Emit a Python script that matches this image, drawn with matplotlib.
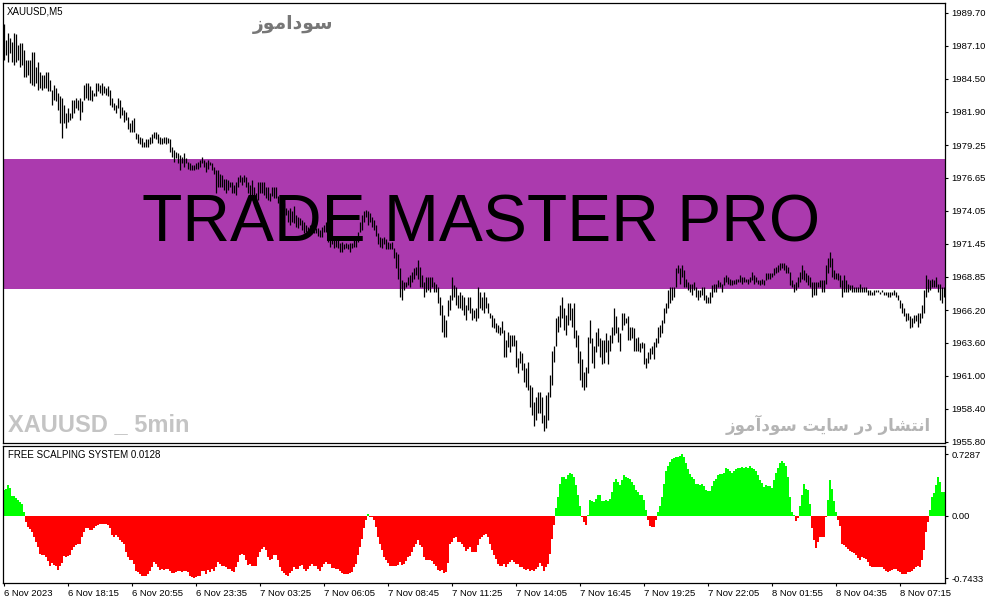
import matplotlib
matplotlib.use('Agg')
import numpy as np
import matplotlib.pyplot as plt

# XAUUSD M5 bars (high / low)
highs = [
    1988.8, 1987.6, 1988.1, 1987.7, 1987.4, 1988.1, 1988.0, 1987.2, 1987.3, 1987.3,
    1986.8, 1986.0, 1986.0, 1986.0, 1986.6, 1986.6, 1985.4, 1985.8, 1985.0, 1984.8,
    1984.8, 1985.0, 1985.0, 1984.4, 1983.6, 1984.0, 1983.8, 1983.4, 1983.1, 1983.0,
    1982.4, 1981.8, 1982.2, 1981.8, 1982.8, 1982.8, 1983.0, 1982.8, 1983.0, 1982.7,
    1984.0, 1984.2, 1984.2, 1983.9, 1983.6, 1983.4, 1984.2, 1984.2, 1984.0, 1984.2,
    1983.9, 1983.8, 1983.9, 1983.6, 1983.0, 1982.6, 1982.4, 1983.0, 1982.8, 1982.3,
    1982.0, 1981.9, 1981.5, 1981.0, 1981.2, 1981.4, 1980.2, 1980.1, 1979.9, 1979.8,
    1979.5, 1979.7, 1979.7, 1979.9, 1980.1, 1980.3, 1980.3, 1980.1, 1979.9, 1979.8,
    1979.9, 1979.9, 1979.8, 1979.7, 1979.1, 1978.9, 1978.7, 1978.6, 1978.5, 1978.3,
    1978.6, 1978.2, 1977.9, 1977.8, 1977.7, 1977.7, 1977.8, 1977.9, 1978.1, 1978.3,
    1978.1, 1977.9, 1978.1, 1977.9, 1977.8, 1977.5, 1977.3, 1977.3, 1977.0, 1976.9,
    1976.6, 1976.6, 1976.5, 1976.3, 1976.3, 1976.1, 1976.3,
    1976.7, 1976.9, 1976.7, 1976.9, 1976.7, 1976.3, 1976.1, 1976.5, 1975.9, 1975.5,
    1976.3, 1976.3, 1976.3, 1976.3, 1975.9, 1975.9, 1975.5, 1975.9, 1975.9, 1975.9,
    1975.2, 1975.1, 1974.9, 1974.7, 1974.3, 1974.1, 1974.3, 1974.0, 1974.4, 1973.7,
    1973.6, 1973.5, 1973.3, 1973.2, 1972.9, 1972.8, 1972.9, 1972.9, 1972.7, 1972.7,
    1972.7, 1972.5, 1972.8, 1972.9, 1973.2, 1972.4, 1972.1, 1971.9, 1971.9, 1971.9,
    1971.8, 1971.5, 1971.6, 1971.4, 1971.5, 1971.4, 1971.5, 1971.5, 1971.8, 1971.9,
    1972.4, 1973.2, 1973.7, 1974.0, 1974.1, 1974.0, 1973.9, 1973.6, 1973.3, 1972.9,
    1972.3, 1972.0, 1971.9, 1972.0, 1971.8, 1971.6, 1971.5, 1971.6, 1971.1, 1970.8,
    1970.6, 1969.5, 1968.6, 1968.4, 1968.4, 1968.8, 1969.0, 1969.2, 1969.5, 1969.6,
    1970.2, 1969.6, 1969.0, 1968.4, 1968.8, 1968.8, 1968.8, 1968.8, 1968.4, 1968.3,
    1968.0, 1967.2, 1966.6, 1965.8, 1965.4, 1967.0, 1967.4, 1968.8, 1968.2, 1968.0,
    1967.4, 1967.6, 1967.4, 1967.2, 1966.6, 1967.2,
    1967.2, 1966.4, 1966.2, 1966.4, 1968.0, 1967.6, 1967.2, 1967.6, 1967.2, 1966.8,
    1966.0, 1965.8, 1965.6, 1965.2, 1965.0, 1964.9, 1965.3, 1964.6, 1963.8, 1964.5,
    1964.2, 1964.2, 1964.2, 1963.8, 1962.4, 1963.0, 1962.8, 1962.0, 1961.6, 1962.1,
    1960.3, 1960.1, 1958.9, 1959.3, 1959.7, 1959.7, 1959.3, 1957.9, 1959.5, 1959.7,
    1961.1, 1963.0, 1963.4, 1965.6, 1965.7, 1966.6, 1967.2, 1966.4, 1965.8, 1966.8,
    1966.8, 1966.4, 1966.8, 1964.6, 1964.2, 1963.0, 1962.3, 1961.3, 1961.7, 1964.1,
    1965.4, 1964.0, 1963.4, 1964.5, 1964.8, 1964.0, 1963.8, 1963.8, 1964.4, 1963.8,
    1964.2, 1964.9, 1966.4, 1965.7, 1964.9, 1964.4, 1966.0, 1966.0, 1965.6, 1965.7,
    1964.9, 1964.9, 1964.8, 1964.0, 1964.1, 1963.6, 1963.7, 1963.6, 1962.4, 1962.9,
    1963.2, 1963.4, 1963.7, 1964.0, 1964.9, 1965.0, 1965.4, 1966.4, 1966.8, 1967.8,
    1968.0, 1968.0, 1968.0, 1969.5, 1969.8, 1969.5, 1969.8, 1969.4, 1968.7, 1968.4,
    1968.3, 1968.3, 1968.4, 1968.0, 1967.8, 1967.8, 1968.0, 1968.0,
    1967.4, 1967.2, 1967.6, 1968.2, 1968.3, 1968.3, 1968.6, 1968.4, 1968.3, 1968.8,
    1969.0, 1968.8, 1968.7, 1968.6, 1968.6, 1968.7, 1968.7, 1969.0, 1968.8, 1968.8,
    1968.7, 1968.7, 1968.8, 1969.2, 1969.0, 1968.8, 1968.6, 1968.6, 1968.7, 1968.6,
    1969.1, 1969.1, 1969.1, 1969.1, 1969.5, 1969.6, 1969.8, 1969.9, 1969.9, 1969.9,
    1969.8, 1969.6, 1969.2, 1968.6, 1968.3, 1968.4, 1968.8, 1969.2, 1969.8, 1969.4,
    1969.1, 1969.0, 1968.8, 1968.4, 1968.4, 1968.4, 1968.4, 1968.6, 1968.6, 1968.6,
    1969.8, 1970.3, 1970.8, 1970.3, 1969.4, 1969.1, 1969.1, 1969.0, 1968.6, 1969.0,
    1968.6, 1968.3, 1968.2, 1968.2, 1968.0, 1968.0, 1968.0, 1968.3, 1968.0, 1968.0,
    1968.0, 1967.8, 1967.8, 1967.6, 1967.8, 1967.8, 1967.8, 1967.6, 1967.8, 1967.6,
    1967.6, 1967.6, 1967.6, 1967.6, 1967.8, 1967.6, 1967.4, 1967.0, 1966.8, 1966.4,
    1966.0, 1966.0, 1965.7, 1965.6, 1965.8, 1965.8, 1966.0, 1966.0, 1966.6, 1967.8,
    1969.0, 1968.7, 1968.6, 1968.7, 1968.6, 1968.8, 1968.3, 1968.3, 1968.0, 1968.0,
]

lows = [
    1986.0, 1986.4, 1985.8, 1986.5, 1985.8, 1985.6, 1985.8, 1986.0, 1985.4, 1985.6,
    1984.6, 1984.6, 1984.8, 1984.2, 1984.0, 1983.9, 1984.2, 1983.6, 1983.8, 1983.6,
    1983.8, 1983.8, 1983.5, 1983.5, 1982.4, 1982.8, 1982.7, 1982.0, 1981.0, 1979.8,
    1981.0, 1980.6, 1981.1, 1981.2, 1981.4, 1981.8, 1982.2, 1982.0, 1981.2, 1981.9,
    1982.8, 1983.0, 1982.8, 1982.8, 1982.7, 1983.1, 1983.1, 1983.5, 1983.4, 1983.2,
    1983.4, 1983.2, 1983.1, 1982.4, 1982.3, 1982.0, 1981.8, 1982.2, 1981.4, 1981.6,
    1981.1, 1981.2, 1980.5, 1980.3, 1980.3, 1980.3, 1979.7, 1979.4, 1979.3, 1979.1,
    1979.1, 1979.1, 1979.1, 1979.3, 1979.4, 1979.8, 1979.7, 1979.4, 1979.3, 1979.3,
    1979.4, 1979.3, 1979.4, 1978.7, 1978.3, 1977.9, 1978.2, 1977.8, 1977.3, 1977.8,
    1977.5, 1977.8, 1977.4, 1977.3, 1977.3, 1977.3, 1977.4, 1977.4, 1977.5, 1977.8,
    1977.5, 1977.1, 1977.4, 1977.7, 1977.3, 1977.0, 1975.5, 1975.9, 1975.9, 1975.9,
    1975.7, 1975.5, 1975.7, 1975.9, 1975.5, 1975.5, 1975.3,
    1975.9, 1976.3, 1976.1, 1976.3, 1975.9, 1975.5, 1975.2, 1974.9, 1974.7, 1974.7,
    1974.9, 1975.5, 1975.5, 1975.3, 1975.1, 1974.9, 1974.8, 1975.2, 1975.1, 1975.1,
    1974.7, 1974.3, 1974.0, 1973.7, 1973.7, 1973.2, 1972.9, 1973.2, 1973.1, 1972.8,
    1972.7, 1972.9, 1972.5, 1972.3, 1972.4, 1972.1, 1972.3, 1972.4, 1972.3, 1972.3,
    1972.1, 1972.0, 1972.0, 1972.4, 1972.4, 1971.6, 1971.2, 1971.4, 1971.1, 1971.2,
    1971.1, 1970.8, 1970.8, 1971.0, 1971.1, 1971.0, 1970.8, 1971.1, 1971.2, 1971.2,
    1971.6, 1972.4, 1972.5, 1973.2, 1973.6, 1972.9, 1973.2, 1972.8, 1972.5, 1972.1,
    1971.4, 1971.2, 1971.1, 1971.4, 1971.0, 1971.0, 1971.0, 1971.0, 1970.3, 1969.5,
    1968.7, 1967.2, 1967.0, 1967.8, 1968.0, 1968.2, 1968.0, 1968.4, 1968.7, 1969.0,
    1968.7, 1968.0, 1968.0, 1967.2, 1967.6, 1967.8, 1967.6, 1968.0, 1967.6, 1967.6,
    1966.8, 1965.8, 1964.5, 1964.1, 1964.1, 1965.7, 1966.2, 1967.0, 1967.2, 1966.6,
    1966.4, 1966.4, 1966.2, 1965.8, 1965.4, 1966.2,
    1966.0, 1965.4, 1965.6, 1965.3, 1965.6, 1966.4, 1966.2, 1966.0, 1966.4, 1966.0,
    1965.6, 1964.9, 1964.8, 1964.5, 1964.4, 1964.2, 1964.4, 1962.5, 1962.5, 1963.3,
    1962.9, 1963.4, 1963.4, 1961.7, 1961.2, 1962.0, 1961.5, 1960.5, 1960.1, 1959.9,
    1958.5, 1957.9, 1957.0, 1957.5, 1958.1, 1958.1, 1957.3, 1956.6, 1956.9, 1957.5,
    1959.3, 1960.3, 1962.1, 1963.4, 1964.5, 1964.9, 1965.6, 1964.6, 1964.2, 1965.0,
    1965.4, 1964.9, 1964.0, 1963.3, 1962.0, 1960.7, 1960.1, 1959.9, 1960.1, 1961.2,
    1963.6, 1962.0, 1961.6, 1962.9, 1963.4, 1962.5, 1961.9, 1962.0, 1962.9, 1961.9,
    1963.0, 1963.6, 1964.2, 1964.4, 1963.7, 1963.0, 1964.6, 1965.0, 1965.2, 1963.8,
    1963.8, 1964.0, 1963.0, 1963.0, 1963.0, 1962.9, 1963.2, 1961.9, 1961.6, 1962.0,
    1962.3, 1962.7, 1962.3, 1963.3, 1963.6, 1964.1, 1964.4, 1965.2, 1966.0, 1966.4,
    1966.8, 1967.0, 1967.2, 1968.0, 1969.1, 1968.3, 1968.8, 1968.0, 1968.0, 1967.8,
    1967.6, 1967.4, 1967.8, 1967.2, 1967.0, 1967.2, 1967.4, 1967.0,
    1966.8, 1966.8, 1966.8, 1967.2, 1967.6, 1967.6, 1968.0, 1968.0, 1967.6, 1968.2,
    1968.4, 1968.3, 1968.2, 1968.2, 1968.3, 1968.3, 1968.4, 1968.4, 1968.3, 1968.4,
    1968.4, 1968.3, 1968.4, 1968.6, 1968.3, 1968.4, 1968.3, 1968.2, 1968.3, 1968.2,
    1968.6, 1968.7, 1968.7, 1968.8, 1969.0, 1969.1, 1969.2, 1969.4, 1969.5, 1969.4,
    1969.1, 1969.1, 1968.2, 1968.0, 1967.6, 1967.8, 1968.0, 1968.4, 1968.7, 1968.6,
    1968.4, 1968.2, 1968.0, 1967.2, 1967.4, 1967.4, 1968.0, 1968.0, 1967.6, 1967.6,
    1968.3, 1969.1, 1969.6, 1968.8, 1968.7, 1968.7, 1968.6, 1968.0, 1967.2, 1967.6,
    1967.6, 1967.6, 1967.8, 1967.6, 1967.6, 1967.6, 1967.6, 1967.6, 1967.6, 1967.6,
    1967.6, 1967.4, 1967.4, 1967.4, 1967.4, 1967.6, 1967.6, 1967.5, 1967.6, 1967.4,
    1967.4, 1967.2, 1967.2, 1967.4, 1967.4, 1967.2, 1967.0, 1966.4, 1966.0, 1965.7,
    1965.3, 1965.4, 1964.8, 1964.9, 1965.2, 1965.3, 1964.9, 1965.2, 1965.6, 1966.0,
    1967.2, 1967.6, 1967.8, 1968.0, 1968.0, 1968.0, 1967.6, 1967.0, 1966.8, 1967.2,
]

# FREE SCALPING SYSTEM histogram, one value per bar
scalping = [
    0.31, 0.32, 0.36, 0.33, 0.23, 0.23, 0.21, 0.19, 0.16, 0.14,
    0.05, -0.08, -0.13, -0.16, -0.19, -0.25, -0.31, -0.37, -0.45, -0.46,
    -0.47, -0.49, -0.54, -0.59, -0.56, -0.58, -0.60, -0.64, -0.59, -0.56,
    -0.48, -0.49, -0.48, -0.47, -0.41, -0.37, -0.35, -0.33, -0.33, -0.25,
    -0.19, -0.14, -0.15, -0.17, -0.17, -0.15, -0.12, -0.11, -0.10, -0.10,
    -0.10, -0.10, -0.11, -0.14, -0.23, -0.25, -0.23, -0.25, -0.29, -0.31,
    -0.34, -0.43, -0.49, -0.52, -0.53, -0.57, -0.65, -0.67, -0.69, -0.71,
    -0.71, -0.71, -0.69, -0.65, -0.61, -0.55, -0.57, -0.61, -0.64, -0.63,
    -0.64, -0.63, -0.63, -0.66, -0.68, -0.68, -0.67, -0.66, -0.66, -0.67,
    -0.65, -0.65, -0.67, -0.71, -0.73, -0.74, -0.73, -0.71, -0.71, -0.66,
    -0.65, -0.69, -0.64, -0.67, -0.63, -0.65, -0.61, -0.55, -0.57, -0.59,
    -0.59, -0.61, -0.63, -0.63, -0.65, -0.67, -0.61, -0.55, -0.47, -0.45,
    -0.47, -0.53, -0.58, -0.57, -0.60, -0.59, -0.59, -0.49, -0.43, -0.39,
    -0.37, -0.41, -0.49, -0.53, -0.51, -0.47, -0.47, -0.53, -0.61, -0.65,
    -0.68, -0.70, -0.71, -0.68, -0.65, -0.61, -0.63, -0.63, -0.60, -0.58,
    -0.63, -0.65, -0.63, -0.59, -0.57, -0.59, -0.60, -0.63, -0.65, -0.61,
    -0.57, -0.55, -0.57, -0.57,
    -0.62, -0.62, -0.63, -0.63, -0.65, -0.68, -0.69, -0.69, -0.69, -0.68,
    -0.67, -0.61, -0.57, -0.47, -0.37, -0.27, -0.15, -0.05, 0.02, -0.01,
    -0.02, -0.05, -0.13, -0.25, -0.33, -0.41, -0.49, -0.52, -0.56, -0.59,
    -0.60, -0.59, -0.59, -0.58, -0.55, -0.58, -0.57, -0.54, -0.49, -0.48,
    -0.43, -0.37, -0.34, -0.29, -0.35, -0.37, -0.49, -0.52, -0.53, -0.53,
    -0.54, -0.57, -0.59, -0.64, -0.65, -0.64, -0.68, -0.67, -0.56, -0.33,
    -0.31, -0.26, -0.25, -0.31, -0.31, -0.33, -0.37, -0.42, -0.39, -0.37,
    -0.43, -0.43, -0.43, -0.35, -0.27, -0.25, -0.23, -0.22, -0.25, -0.33,
    -0.41, -0.46, -0.51, -0.57, -0.59, -0.59, -0.57, -0.61, -0.57, -0.55,
    -0.52, -0.55, -0.57, -0.57, -0.61, -0.61, -0.63, -0.64, -0.63, -0.65,
    -0.64, -0.65, -0.63, -0.61, -0.56, -0.59, -0.66, -0.61, -0.57, -0.45,
    -0.27, -0.11, 0.09, 0.22, 0.37, 0.46, 0.46, 0.43, 0.48, 0.51,
    0.50, 0.46, 0.36, 0.25, 0.11, -0.01, -0.08, -0.11, 0.01, 0.19,
    0.18, 0.16, 0.20, 0.24, 0.24, 0.17, 0.17, 0.19, 0.18, 0.20,
    0.28, 0.40, 0.44, 0.40, 0.36, 0.42, 0.48, 0.46, 0.45, 0.43,
    0.40, 0.36, 0.30, 0.28, 0.24, 0.24, 0.19, 0.07, -0.05, -0.12,
    -0.13, -0.13, -0.05, 0.05, 0.12,
    0.22, 0.38, 0.53, 0.59, 0.64, 0.67, 0.68, 0.69, 0.70, 0.71,
    0.73, 0.70, 0.63, 0.55, 0.49, 0.46, 0.44, 0.38, 0.37, 0.36,
    0.37, 0.35, 0.30, 0.29, 0.29, 0.35, 0.41, 0.43, 0.48, 0.49,
    0.49, 0.51, 0.57, 0.55, 0.53, 0.51, 0.53, 0.55, 0.57, 0.57,
    0.58, 0.57, 0.58, 0.57, 0.59, 0.57, 0.55, 0.53, 0.48, 0.42,
    0.39, 0.34, 0.36, 0.35, 0.35, 0.33, 0.42, 0.51, 0.57, 0.63,
    0.65, 0.62, 0.59, 0.46, 0.22, 0.05, 0.01, -0.06, -0.03, 0.11,
    0.24, 0.37, 0.32, 0.30, 0.14, -0.15, -0.29, -0.38, -0.31, -0.25,
    -0.25, -0.25, -0.01, 0.19, 0.42, 0.32, 0.18, 0.05, -0.05, -0.12,
    -0.34, -0.35, -0.37, -0.40, -0.42, -0.43, -0.44, -0.47, -0.50, -0.52,
    -0.49, -0.50, -0.51, -0.55, -0.59, -0.61, -0.61, -0.61, -0.61, -0.61,
    -0.61, -0.63, -0.65, -0.67, -0.66, -0.64, -0.63, -0.63, -0.66, -0.67,
    -0.69, -0.69, -0.69, -0.67, -0.67, -0.65, -0.63, -0.61, -0.60, -0.61,
    -0.53, -0.41, -0.19, -0.07, 0.07, 0.22, 0.27, 0.36, 0.46, 0.40,
    0.28, 0.28,
]

price_ticks = [1989.70, 1987.10, 1984.50, 1981.90, 1979.25, 1976.65, 1974.05,
               1971.45, 1968.85, 1966.20, 1963.60, 1961.00, 1958.40, 1955.80]
osc_ticks = [0.7287, 0.0, -0.7433]
osc_tick_labels = ['0.7287', '0.00', '-0.7433']

time_labels = ['6 Nov 2023', '6 Nov 18:15', '6 Nov 20:55', '6 Nov 23:35',
               '7 Nov 03:25', '7 Nov 06:05', '7 Nov 08:45', '7 Nov 11:25',
               '7 Nov 14:05', '7 Nov 16:45', '7 Nov 19:25', '7 Nov 22:05',
               '8 Nov 01:55', '8 Nov 04:35', '8 Nov 07:15']
label_step = 32   # one date label every 32 bars

band_low, band_high = 1967.87, 1978.15   # purple rectangle object

banner = 'TRADE MASTER PRO'
site_name = 'سوداموز'
site_note = 'انتشار در سایت سودآموز'

# Arabic presentation forms: isolated, final, initial, medial
AR_FORMS = {
    'ا': ('\ufe8d', '\ufe8e', None, None),
    'آ': ('\ufe81', '\ufe82', None, None),
    'د': ('\ufea9', '\ufeaa', None, None),
    'ر': ('\ufead', '\ufeae', None, None),
    'ز': ('\ufeaf', '\ufeb0', None, None),
    'و': ('\ufeed', '\ufeee', None, None),
    'ت': ('\ufe95', '\ufe96', '\ufe97', '\ufe98'),
    'ن': ('\ufee5', '\ufee6', '\ufee7', '\ufee8'),
    'س': ('\ufeb1', '\ufeb2', '\ufeb3', '\ufeb4'),
    'ش': ('\ufeb5', '\ufeb6', '\ufeb7', '\ufeb8'),
    'م': ('\ufee1', '\ufee2', '\ufee3', '\ufee4'),
    'ی': ('\ufbfc', '\ufbfd', '\ufbfe', '\ufbff'),
}


def shape_rtl(text):
    '''join the letters and reverse them, matplotlib has no bidi support'''
    out = []
    for k, ch in enumerate(text):
        if ch not in AR_FORMS:
            out.append(ch)
            continue
        prev = text[k - 1] if k > 0 else ''
        nxt = text[k + 1] if k + 1 < len(text) else ''
        iso, fin, ini, med = AR_FORMS[ch]
        join_prev = prev in AR_FORMS and AR_FORMS[prev][2] is not None
        join_next = ini is not None and nxt in AR_FORMS
        if join_prev and join_next:
            out.append(med)
        elif join_prev:
            out.append(fin)
        elif join_next:
            out.append(ini)
        else:
            out.append(iso)
    return ''.join(reversed(out))


plt.rcParams['font.family'] = ['Liberation Sans', 'DejaVu Sans']

W, H = 991, 605
fig = plt.figure(figsize=(W / 100, H / 100), dpi=100, facecolor='white')

ax1 = fig.add_axes([3 / W, 1 - 443 / H, 942 / W, 440 / H])
ax2 = fig.add_axes([3 / W, 1 - 583 / H, 942 / W, 137 / H])

x = np.arange(len(highs))

# price window
ax1.axhspan(band_low, band_high, color='#AB3AAE', lw=0, zorder=1)
ax1.text(0.507, (222 - 3) / 440, banner, transform=ax1.transAxes,
         ha='center', va='center', fontsize=47.5, color='black', zorder=2)
ax1.vlines(x, lows, highs, color='black', lw=0.9, zorder=3)
ax1.set_xlim(-0.4, 470.6)
ax1.set_ylim(1955.69, 1990.49)
ax1.set_xticks([])
ax1.yaxis.tick_right()
ax1.set_yticks(price_ticks)
ax1.set_yticklabels(['%.2f' % p for p in price_ticks])
ax1.tick_params(axis='y', direction='out', length=2.5, width=0.8, pad=2,
                labelsize=6.8, colors='black')

ax1.text(4 / 942, 1 - 8 / 440, 'XAUUSD,M5', transform=ax1.transAxes,
         ha='left', va='center', fontsize=7, color='black')
ax1.text(290 / 942, 1 - 22 / 440, shape_rtl(site_name), transform=ax1.transAxes,
         ha='center', va='center', fontsize=13.5, color='#777777',
         family=['DejaVu Sans'], fontweight='bold')
ax1.text(928 / 942, 1 - 422 / 440, shape_rtl(site_note), transform=ax1.transAxes,
         ha='right', va='center', fontsize=12, color='#b4b4b4',
         family=['DejaVu Sans'], fontweight='bold')
ax1.text(5 / 942, 1 - 422 / 440, 'XAUUSD _ 5min', transform=ax1.transAxes,
         ha='left', va='center', fontsize=17, color='#c4c4c4',
         fontweight='bold')

# indicator window
bar_colors = ['#00FF00' if v >= 0 else '#FF0000' for v in scalping]
ax2.bar(x, scalping, width=1.02, color=bar_colors, lw=0)
ax2.set_xlim(-0.4, 470.6)
ax2.set_ylim(-0.797, 0.826)
ax2.yaxis.tick_right()
ax2.set_yticks(osc_ticks)
ax2.set_yticklabels(osc_tick_labels)
ax2.set_xticks(np.arange(len(time_labels)) * label_step)
ax2.set_xticklabels(time_labels)
for lbl in ax2.get_xticklabels():
    lbl.set_horizontalalignment('left')
ax2.tick_params(axis='both', direction='out', length=2.5, width=0.8, pad=2,
                labelsize=6.8, colors='black')
ax2.text(5 / 942, 1 - 9 / 137, 'FREE SCALPING SYSTEM 0.0128',
         transform=ax2.transAxes, ha='left', va='center', fontsize=7)

for ax in (ax1, ax2):
    ax.set_facecolor('white')
    for sp in ax.spines.values():
        sp.set_color('black')
        sp.set_linewidth(0.9)

fig.savefig('out.png', dpi=100, facecolor='white')
